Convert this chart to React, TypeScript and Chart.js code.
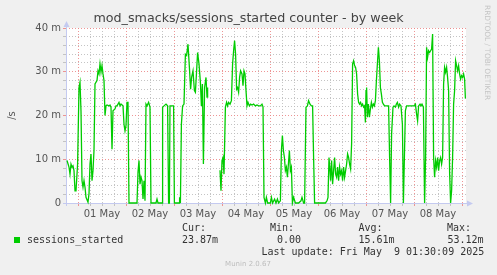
import React, { useEffect, useRef } from 'react';
import { Chart, registerables } from 'chart.js';

Chart.register(...registerables);

// hours relative to 01 May 00:00
const hours = [
  -5.5, -4.5, -4, -3.5, -3, -2.5, -2, -1.5, -1, -0.2, 0.5, 1, 1.5, 2, 2.5, 3, 3.5, 4, 5, 5.5,
  6, 6.5, 7, 7.5, 8, 8.5, 9.5, 10, 10.5, 11, 11.5, 12, 12.5, 13, 13.5, 14, 14.5, 15.5, 16, 16.5,
  17, 17.5, 18.5, 19, 19.5, 20, 20.5, 21, 21.5, 22.5, 23, 23.5, 24, 24.5, 25, 25.5, 29.5, 30, 30.5, 31,
  31.5, 32, 32.5, 33, 33.5, 34, 34.5, 35.3, 36, 36.5, 39, 39.5, 40, 42, 42.3, 43, 44, 44.8, 45.3, 45.7,
  46, 47.8, 48.2, 50.5, 50.8, 51.2, 51.7, 52.3, 53, 53.7, 54.3, 55, 55.7, 56.3, 56.8, 57.5, 58.2, 58.7, 59.3, 59.8,
  60.5, 61.2, 61.7, 62.2, 62.7, 63.3, 64, 64.5, 64.8, 65, 71, 71.5, 72, 72.5, 73, 73.7, 74.3, 74.8, 75.3, 76,
  76.7, 77.3, 77.8, 78.3, 78.8, 79.3, 79.8, 80.3, 80.8, 81.3, 82, 82.5, 83, 83.5, 84, 84.5, 85, 85.7, 86.3, 87,
  87.8, 88.7, 89.5, 90.3, 91.2, 92, 92.5, 93, 93.7, 94.2, 94.8, 96.2, 96.7, 97.3, 98.3, 99, 99.7, 100.3, 101.2, 101.7,
  102.2, 102.7, 103.2, 103.7, 104.2, 104.7, 105.2, 105.7, 106.2, 106.7, 107.2, 107.8, 108.7, 110.3, 111.5, 112, 112.8, 113.3, 114, 114.7,
  115.3, 116, 116.7, 117.3, 117.8, 118.3, 123.7, 124.5, 125, 125.5, 126, 126.3, 126.8, 127.3, 127.8, 128.3, 128.8, 129.3, 129.8, 130.3,
  130.8, 131.3, 131.8, 132.3, 132.8, 133.3, 133.8, 134.3, 134.8, 135.3, 135.8, 136.3, 136.8, 137.3, 137.8, 138.3, 138.8, 139.3, 139.8, 140.3,
  140.8, 141.3, 141.8, 142.3, 142.8, 143.3, 143.7, 144, 144.3, 144.7, 145.2, 145.7, 146.2, 146.7, 147.2, 147.7, 148.2, 148.7, 149.2, 149.7,
  150.2, 150.7, 151.2, 151.7, 152.2, 152.7, 153.3, 154, 154.7, 155.3, 155.8, 156.3, 156.8, 157.5, 158, 158.7, 159.2, 159.7, 160.3, 160.8,
  161.5, 162.2, 162.7, 163.2, 163.7, 164.3, 165.3, 166.3, 167.3, 168, 168.7, 169.3, 169.8, 170.3, 171, 171.5, 172, 172.7, 173.3, 173.8,
  174.3, 174.8, 175.3, 175.8, 176.3, 176.8, 177.3, 177.8, 178.3, 178.8, 179.3, 179.8, 180.3, 180.8, 181.3, 181.8, 182.3, 182.8, 183.3, 183.8,
  184.3, 184.8, 185.3, 185.8, 186.3, 186.8, 187.3, 187.8, 188.3, 188.8, 189.3, 189.8, 190.3, 190.8, 191.3, 191.8, 192.3, 192.8, 193.3, 193.7,
];

// sessions started per second, in milli (m)
const sessions: (number | null)[] = [
  9.7, 8.2, 6.6, 8.9, 8.2, 8.5, 7.4, 2.8, 2.8, 8.9, 26.4, 27.6, 21, 5.1, 3.6, 5.1, 3.6, 1.3, 0.2, 2.1,
  8.9, 11.2, 5.1, 7.4, 12, 27.2, 28, 30.2, 29.5, 31.8, 29.9, 31.4, 29.5, 28, 20, 22.2, 22.4, 22.2, 22.4, 21.9,
  12.3, 21.1, 21.5, 22.2, 22.2, 22.6, 23, 22.2, 22.6, 22.2, 18, 16.5, 17.7, 23, 23, 0, 0, 7, 9.7, 4.3,
  5.9, 5.1, 0.9, 5.1, 0.5, 22.6, 22.2, 23, 21.9, 0, 0, 0.9, 0, 0, 21.9, 22.2, 22.6, 22.2, 0, 0,
  22.2, 22.2, 0, 0, 1.3, 0, 18, 22.2, 22.6, 34, 33.7, 36.3, 31, 26, 28.7, 30.2, 25.7, 25.3, 30.2, 34.4,
  31.8, 27.6, 22.2, 27.2, 8.9, 26.4, 28.7, 24.2, 26.4, null, 7.5, 2.8, 9.7, 10.4, 6.6, 21.9, 23, 22.2, 23, 22.6,
  23.4, 31.8, 34.8, 37.1, 34, 26, 26.4, 25.3, 28.7, 30.2, 29.5, 26.8, 30.2, 29.5, 25.7, 22.2, 23, 22.2, 22.6, 22.4,
  22.6, 22.2, 22.4, 22.2, 22.2, 22.6, 22, 1.3, 0, 1.3, 0, 0, 1.3, 0, 0.9, 0, 0.9, 0, 0.5, 12,
  15.4, 12, 10.4, 7.4, 8.2, 5.9, 8.9, 12, 7.4, 8.2, 0, 1.3, 0, 0, 0.5, 1.3, 0, 0, 21.9, 22.2,
  23.4, 22.6, 22.2, 22.2, 10.4, 0, 0, 0.5, 1.3, 10.4, 7.4, 5.1, 9.7, 4.3, 7.4, 10.4, 6.6, 5.9, 8.2, 5.1,
  8.2, 6.6, 7.4, 5.1, 8.2, 5.9, 7.4, 8.9, 11.2, 10.4, 8.9, 7.8, 13.5, 31.8, 32.5, 31.4, 31, 29.5, 24.9, 23,
  22.6, 23, 22.2, 22.6, 21.9, 22.2, 18.4, 25.7, 26.4, 19.6, 22.6, 19.6, 21.5, 23, 21.9, 22.6, 22.2, 23.4, 28, 31.8,
  35.6, 32.5, 26.4, 24.9, 23, 22.6, 22.2, 22.2, 22.2, 22.2, 10.4, 0, 15.8, 21.9, 22.2, 21.9, 22.6, 23, 21.9, 22.6,
  22.2, 18, 0, 10.4, 21.1, 22.2, 22.2, 22.2, 22.2, 22.2, 22.6, 20.3, 18.8, 22.2, 22.6, 22.2, 22.6, 21.9, 0, 10.4,
  35.6, 33.3, 34.8, 34.4, 34.8, 35.2, 38.6, 10.4, 5.9, 9.7, 8.2, 10.4, 7.4, 9.7, 10.4, 8.9, 10.4, 27.2, 31, 29.9,
  31, 28.7, 25.7, 7, 0, 2.8, 10.4, 22.6, 25.7, 32.5, 31.4, 30.2, 31.4, 29.5, 28.3, 29.1, 28.7, 29.5, 28.3, 23.9,
];

const dayLabels = ['01 May', '02 May', '03 May', '04 May', '05 May', '06 May', '07 May', '08 May'];
const yTicks = [0, 2, 4, 6, 8, 10, 12, 14, 16, 18, 20, 22, 24, 26, 28, 30, 32, 34, 36, 38, 40];
const yMajorLabels: Record<number, string> = { 0: '0', 10: '10 m', 20: '20 m', 30: '30 m', 40: '40 m' };

const titleText = 'mod_smacks/sessions_started counter - by week';
const yAxisTitle = '/s';
const sideText = 'RRDTOOL / TOBI OETIKER';
const seriesName = 'sessions_started';
const statHeads = ['Cur:', 'Min:', 'Avg:', 'Max:'];
const statValues = ['23.87m', '0.00', '15.61m', '53.12m'];
const lastUpdate = 'Last update: Fri May  9 01:30:09 2025';
const versionText = 'Munin 2.0.67';

const X_MIN = -6;
const X_MAX = 194;

const MAJOR = 'rgba(235,130,130,0.85)';
const MINOR = 'rgba(190,190,190,0.9)';
const AXIS = 'rgb(196,202,240)';
const GREEN = '#00cc00';

const decor = {
  id: 'muninDecor',
  beforeDraw(chart: any) {
    const { ctx, chartArea } = chart;
    ctx.save();
    ctx.fillStyle = '#ffffff';
    ctx.fillRect(chartArea.left, chartArea.top, chartArea.right - chartArea.left, chartArea.bottom - chartArea.top);
    ctx.restore();
  },
  beforeDatasetsDraw(chart: any) {
    const { ctx, chartArea } = chart;
    const l = chartArea.left, b = chartArea.bottom, t = chartArea.top, r = chartArea.right;
    ctx.save();
    ctx.strokeStyle = AXIS;
    ctx.fillStyle = AXIS;
    ctx.lineWidth = 1;
    ctx.beginPath();
    ctx.moveTo(l + 0.5, b + 3);
    ctx.lineTo(l + 0.5, t - 4);
    ctx.moveTo(l - 3, b + 0.5);
    ctx.lineTo(r + 3, b + 0.5);
    ctx.stroke();
    ctx.beginPath();
    ctx.moveTo(l + 0.5, t - 7);
    ctx.lineTo(l - 2.5, t - 1);
    ctx.lineTo(l + 3.5, t - 1);
    ctx.closePath();
    ctx.fill();
    ctx.beginPath();
    ctx.moveTo(r + 7, b + 0.5);
    ctx.lineTo(r + 1, b - 2.5);
    ctx.lineTo(r + 1, b + 3.5);
    ctx.closePath();
    ctx.fill();
    ctx.restore();
  },
  afterDraw(chart: any) {
    const { ctx, chartArea } = chart;
    ctx.save();
    // title
    ctx.fillStyle = '#444444';
    ctx.font = '12.7px "DejaVu Sans"';
    ctx.textAlign = 'center';
    ctx.textBaseline = 'middle';
    ctx.fillText(titleText, 248.5, 19);
    // y title
    ctx.save();
    ctx.translate(12, (chartArea.top + chartArea.bottom) / 2);
    ctx.rotate(-Math.PI / 2);
    ctx.fillStyle = '#555555';
    ctx.font = '10px "DejaVu Sans"';
    ctx.fillText(yAxisTitle, 0, 0);
    ctx.restore();
    // side text
    ctx.save();
    ctx.translate(487, 5);
    ctx.rotate(Math.PI / 2);
    ctx.fillStyle = '#c4c4c4';
    ctx.font = '7.4px "DejaVu Sans"';
    ctx.textAlign = 'left';
    ctx.fillText(sideText, 0, 0);
    ctx.restore();
    // legend
    ctx.fillStyle = GREEN;
    ctx.fillRect(14, 237, 6, 6);
    ctx.fillStyle = '#333333';
    ctx.font = '10px "DejaVu Sans Mono"';
    ctx.textAlign = 'left';
    ctx.fillText(seriesName, 27, 240.5);
    const headX = [182, 270, 358.5, 447];
    const valX = [182, 277, 358.5, 447.5];
    statHeads.forEach((h, i) => ctx.fillText(h, headX[i], 228));
    statValues.forEach((v, i) => ctx.fillText(v, valX[i], 240.5));
    ctx.fillText(lastUpdate, 261.5, 252);
    ctx.fillStyle = '#bdbdbd';
    ctx.font = '7px "DejaVu Sans"';
    ctx.textAlign = 'center';
    ctx.fillText(versionText, 248, 264);
    ctx.restore();
  },
};

export default function App() {
  const ref = useRef<HTMLCanvasElement>(null);

  useEffect(() => {
    if (!ref.current) return;
    const points = hours.map((h, i) => ({ x: h, y: sessions[i] }));
    const chart = new Chart(ref.current, {
      type: 'line',
      data: {
        datasets: [
          {
            label: seriesName,
            data: points as any,
            borderColor: GREEN,
            borderWidth: 1.3,
            pointRadius: 0,
            tension: 0,
            spanGaps: false,
            clip: 3 as any,
          },
        ],
      },
      options: {
        animation: false,
        responsive: false,
        events: [],
        layout: { padding: { left: 0, right: 31, top: 28, bottom: 0 } },
        plugins: { legend: { display: false }, title: { display: false }, tooltip: { enabled: false } },
        scales: {
          x: {
            type: 'linear',
            min: X_MIN,
            max: X_MAX,
            afterBuildTicks: (scale: any) => {
              const ticks = [];
              for (let v = X_MIN; v <= 192; v += 6) ticks.push({ value: v });
              scale.ticks = ticks;
            },
            afterFit: (scale: any) => {
              scale.height = 72;
            },
            ticks: {
              autoSkip: false,
              maxRotation: 0,
              padding: 2,
              color: '#555555',
              font: { family: '"DejaVu Sans"', size: 10 },
              callback: (value: any) => {
                const v = Number(value);
                if (((v % 24) + 24) % 24 === 12) {
                  const idx = (v - 12) / 24;
                  return dayLabels[idx] ?? '';
                }
                return '';
              },
            },
            grid: {
              drawTicks: true,
              tickLength: 3,
              lineWidth: 1,
              color: (c: any) => {
                const v = c.tick?.value;
                if (v === X_MIN) return 'rgba(0,0,0,0)';
                return ((v % 24) + 24) % 24 === 0 ? MAJOR : MINOR;
              },
              tickColor: (c: any) => {
                const v = c.tick?.value;
                if (v === X_MIN) return 'rgba(0,0,0,0)';
                return ((v % 24) + 24) % 24 === 0 ? MAJOR : MINOR;
              },
            },
            border: { display: false, dash: [1, 2] },
          },
          y: {
            type: 'linear',
            min: 0,
            max: 40,
            afterBuildTicks: (scale: any) => {
              scale.ticks = yTicks.map((v) => ({ value: v }));
            },
            afterFit: (scale: any) => {
              scale.width = 66;
            },
            ticks: {
              autoSkip: false,
              padding: 2,
              color: '#555555',
              font: { family: '"DejaVu Sans"', size: 10 },
              callback: (value: any) => yMajorLabels[Number(value)] ?? '',
            },
            grid: {
              drawTicks: true,
              tickLength: 3,
              lineWidth: 1,
              color: (c: any) => {
                const v = c.tick?.value;
                if (v === 0) return 'rgba(0,0,0,0)';
                return v % 10 === 0 ? MAJOR : MINOR;
              },
              tickColor: (c: any) => {
                const v = c.tick?.value;
                return v % 10 === 0 ? MAJOR : MINOR;
              },
            },
            border: { display: false, dash: [1, 2] },
          },
        },
      },
      plugins: [decor],
    });
    return () => chart.destroy();
  }, []);

  return (
    <div style={{ position: 'fixed', left: 0, top: 0, width: 497, height: 275, background: '#f0f0f0' }}>
      <canvas ref={ref} width={497} height={275} style={{ display: 'block', width: 497, height: 275 }} />
    </div>
  );
}
